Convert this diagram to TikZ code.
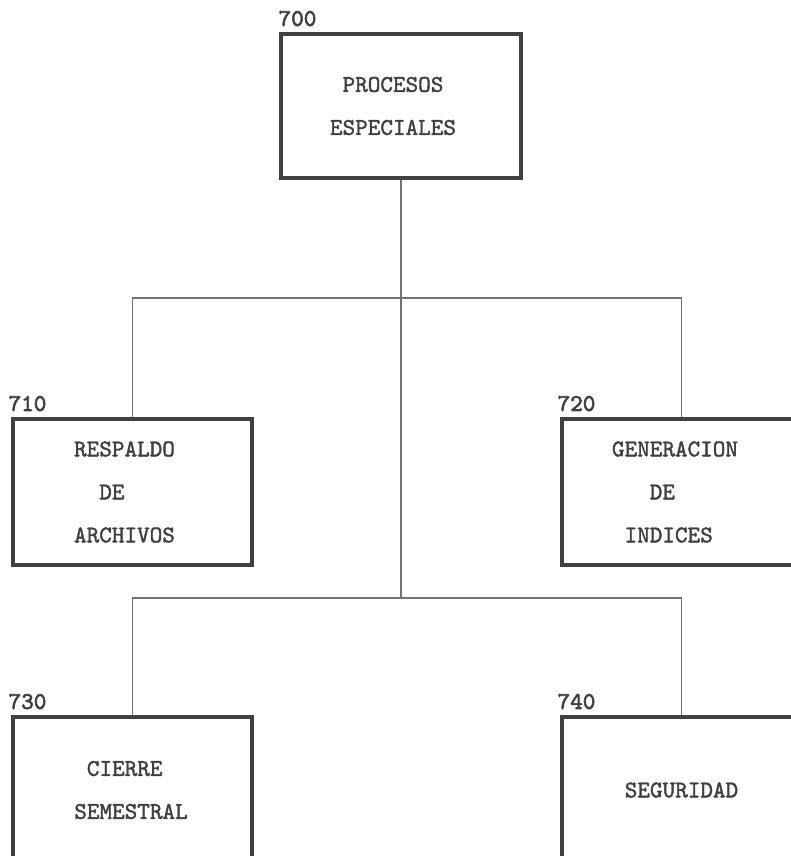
\documentclass[tikz,border=0pt]{standalone}
\usepackage{fontspec}
\usepackage{tikz}
\usetikzlibrary{positioning}
\newfontfamily\dotfont[FakeBold=1.6]{lmmono10-regular.otf}
\newfontfamily\dotnumfont[FakeBold=2.6]{lmmono10-regular.otf}
\definecolor{ink}{gray}{0.25}
\definecolor{wire}{gray}{0.45}
\tikzset{
  box/.style={draw=ink, line width=3.2pt, rectangle, minimum width=239pt,
    minimum height=146pt, inner sep=0pt},
  txt/.style={text=ink, align=left, inner sep=0pt,
    font=\dotfont\fontsize{24}{43}\selectfont},
  num/.style={text=ink, anchor=south west, inner sep=0pt,
    font=\dotnumfont\fontsize{24}{24}\selectfont}
}
\newcommand{\pad}[1]{\phantom{#1}}

\begin{document}
\begin{tikzpicture}[x=1pt, y=-1pt]
\useasboundingbox (0,0) rectangle (791,856);
% top box
\node[box, minimum width=240pt, minimum height=144pt] (n700) at (401,106) {};
\node[num] (k700) at ([xshift=-1pt, yshift=6pt]n700.north west) {700};
\node[txt] (t700) at ([xshift=-8pt]n700.center) {\pad{X}PROCESOS\\ESPECIALES};
% second and third level boxes
\foreach \n/\x/\y in {710/132.5/492, 720/681.5/492, 730/132.5/790, 740/681.5/790} {
    \node[box] (n\n) at (\x,\y) {};
    \node[num] (k\n) at ([xshift=-3pt, yshift=6pt]n\n.north west) {\n};
}
\node[txt] (t710) at ([xshift=-8pt]n710.center) {RESPALDO\\\pad{XX}DE\\ARCHIVOS};
\node[txt] (t720) at ([xshift=-6.5pt]n720.center) {GENERACION\\\pad{XXX}DE\\\pad{X}INDICES};
\node[txt] (t730) at ([xshift=-1.5pt]n730.center) {\pad{X}CIERRE\\SEMESTRAL};
\node[txt] (t740) at (n740.center) {SEGURIDAD};
% connectors
\coordinate (bus1) at (401,298);
\coordinate (bus2) at (401,598);
\draw[wire, line width=1.2pt] (n700.south) -- (bus2);
\draw[wire, line width=1.2pt] (n710.north) |- (bus1) -| (n720.north);
\draw[wire, line width=1.2pt] (n730.north) |- (bus2) -| (n740.north);
\end{tikzpicture}
\end{document}
